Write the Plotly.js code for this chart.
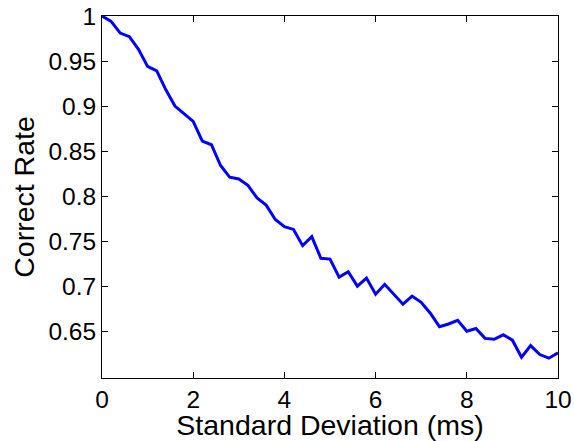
<!DOCTYPE html>
<html>
<head>
<meta charset="utf-8">
<script src="https://cdn.plot.ly/plotly-3.0.1.min.js"></script>
<style>html,body{margin:0;padding:0;background:#fff;}#chart{width:574px;height:441px;}</style>
</head>
<body>
<div id="chart"></div>
<script>
// Standard deviation (ms)
const stdDev = [0,0.2,0.4,0.6,0.8,1.0,1.2,1.4,1.6,1.8,2.0,2.2,2.4,2.6,2.8,3.0,3.2,3.4,3.6,3.8,4.0,4.2,4.4,4.6,4.8,5.0,5.2,5.4,5.6,5.8,6.0,6.2,6.4,6.6,6.8,7.0,7.2,7.4,7.6,7.8,8.0,8.2,8.4,8.6,8.8,9.0,9.2,9.4,9.6,9.8,10.0];
// Correct rate
const correctRate = [1.000,0.994,0.981,0.977,0.963,0.944,0.939,0.918,0.900,0.892,0.883,0.861,0.857,0.834,0.821,0.819,0.812,0.798,0.790,0.774,0.766,0.763,0.745,0.755,0.731,0.730,0.710,0.716,0.700,0.709,0.691,0.702,0.691,0.680,0.689,0.682,0.670,0.655,0.658,0.662,0.650,0.653,0.642,0.641,0.646,0.640,0.621,0.634,0.624,0.620,0.626];
const xTicks = [0,2,4,6,8,10];
const xTickText = ['0','2','4','6','8','10'];
const yTicks = [0.65,0.7,0.75,0.8,0.85,0.9,0.95,1];
const yTickText = ['0.65','0.7','0.75','0.8','0.85','0.9','0.95','1'];

const font = 'Liberation Sans, Arial, Helvetica, sans-serif';
const trace = {
  x: stdDev, y: correctRate, type: 'scatter', mode: 'lines',
  line: {color: '#0000ff', width: 3}
};
const axisCommon = {
  showline: true, linecolor: '#000', linewidth: 1, mirror: 'ticks',
  ticks: 'inside', ticklen: 6, tickcolor: '#000', tickwidth: 1,
  showgrid: false, zeroline: false, automargin: false,
  tickfont: {family: font, size: 24.5, color: '#000'}
};
const layout = {
  width: 574, height: 441,
  margin: {l: 102, r: 16, t: 16, b: 63, pad: 0},
  paper_bgcolor: '#fff', plot_bgcolor: '#fff',
  showlegend: false,
  xaxis: Object.assign({}, axisCommon, {
    range: [0, 10], tickvals: xTicks, ticktext: xTickText,
    title: {text: 'Standard Deviation (ms)', font: {family: font, size: 28.5, color: '#000'}, standoff: 0}
  }),
  yaxis: Object.assign({}, axisCommon, {
    range: [0.598, 1], tickvals: yTicks, ticktext: yTickText,
    title: {text: 'Correct Rate', font: {family: font, size: 28.5, color: '#000'}, standoff: 5}
  })
};
Plotly.newPlot('chart', [trace], layout, {displayModeBar: false, staticPlot: true});
</script>
</body>
</html>
